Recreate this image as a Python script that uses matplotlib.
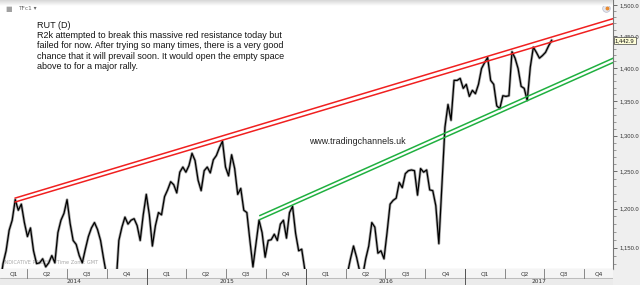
import matplotlib
matplotlib.use("Agg")
import matplotlib.pyplot as plt
import matplotlib.ticker as mticker
import numpy as np
import pandas as pd

# weekly closes of RUT (values below ~1124 are clipped)
closes = [
    1105, 1130, 1146, 1172, 1185, 1212, 1198, 1206, 1182, 1164,
    1175, 1146, 1130, 1131, 1136, 1126, 1131, 1140, 1131, 1169,
    1185, 1194, 1212, 1181, 1159, 1154, 1140, 1131, 1148, 1164,
    1175, 1182, 1173, 1159, 1136, 1115, 1090, 1070, 1100, 1159,
    1176, 1189, 1180, 1185, 1187, 1178, 1159, 1192, 1219, 1192,
    1152, 1178, 1195, 1192, 1216, 1225, 1236, 1232, 1221, 1249,
    1256, 1249, 1258, 1275, 1265, 1238, 1224, 1251, 1256, 1248,
    1266, 1272, 1283, 1292, 1256, 1244, 1273, 1254, 1219, 1227,
    1198, 1195, 1159, 1126, 1155, 1185, 1169, 1138, 1159, 1160,
    1167, 1159, 1180, 1185, 1162, 1195, 1203, 1168, 1146, 1148,
    1123, 1090, 1060, 1040, 1010, 990, 1000, 960, 990, 1010,
    1030, 1050, 1080, 1100, 1118, 1136, 1152, 1138, 1121, 1115,
    1136, 1152, 1182, 1176, 1143, 1146, 1136, 1169, 1206, 1211,
    1214, 1235, 1228, 1247, 1251, 1252, 1251, 1218, 1254, 1249,
    1252, 1225, 1224, 1204, 1155, 1231, 1312, 1345, 1322, 1381,
    1381, 1384, 1369, 1375, 1357, 1366, 1361, 1375, 1399, 1408,
    1416, 1381, 1375, 1343, 1339, 1358, 1357, 1358, 1425, 1415,
    1399, 1372, 1369, 1351, 1401, 1432, 1424, 1415, 1419, 1424,
    1434, 1442.9,
]
dates = pd.date_range("2014-01-28", periods=len(closes), freq="7D")
last_price = 1442.9

# trend lines (two parallel lines each)
red_dates = pd.to_datetime(["2014-03-04", "2017-12-06"])
red_upper = [1214.1, 1477.5]
red_lower = [1208.9, 1469.4]
green_dates = pd.to_datetime(["2015-09-17", "2017-12-06"])
green_upper = [1191.1, 1414.8]
green_lower = [1185.9, 1408.2]

y_major = [1150, 1200, 1250, 1300, 1350, 1400, 1450, 1500]

note = ("RUT (D)\n"
        "R2k attempted to break this massive red resistance today but\n"
        "failed for now. After trying so many times, there is a very good\n"
        "chance that it will prevail soon. It would open the empty space\n"
        "above to for a major rally.")

W, H = 640, 285
x0, x1 = pd.Timestamp("2014-01-28"), pd.Timestamp("2017-12-06")

fig = plt.figure(figsize=(6.4, 2.85), dpi=100)
fig.patch.set_facecolor("#efefef")

ax = fig.add_axes([0, 16.5 / H, 613 / W, 268.5 / H])
ax.set_facecolor("white")
ax.set_yscale("log")
ax.set_xlim(x0, x1)
ax.set_ylim(1124, 1508)

ax.plot(dates, closes, color="#a8a8a8", lw=2.0, zorder=2)
ax.plot(dates, closes, color="black", lw=0.9, zorder=3)

ax.plot(red_dates, red_upper, color="#f02020", lw=1.1, zorder=4)
ax.plot(red_dates, red_lower, color="#f02020", lw=1.1, zorder=4)
ax.plot(green_dates, green_upper, color="#20b040", lw=1.1, zorder=4)
ax.plot(green_dates, green_lower, color="#20b040", lw=1.1, zorder=4)

# price axis on the right
ax.yaxis.tick_right()
ax.set_yticks(y_major)
ax.set_yticks([v for v in range(1130, 1510, 10) if v not in y_major], minor=True)
ax.yaxis.set_major_formatter(mticker.FuncFormatter(lambda v, p: f"{v:,.1f}"))
ax.yaxis.set_minor_formatter(mticker.NullFormatter())
ax.tick_params(axis="y", which="major", length=3, width=0.6, color="#555",
               labelsize=4.2, labelcolor="#333", pad=1.5)
ax.tick_params(axis="y", which="minor", length=1.8, width=0.5, color="#777")
for lab in ax.get_yticklabels():
    lab.set_family("Liberation Sans")
ax.set_xticks([])
for s in ["left", "top"]:
    ax.spines[s].set_visible(False)
ax.spines["right"].set_color("#777")
ax.spines["bottom"].set_color("#999")

ax.text(1.003, last_price, f"{last_price:,.1f}",
        transform=ax.get_yaxis_transform(), ha="left", va="center",
        fontsize=4.2, family="Liberation Sans", color="#111", clip_on=False, zorder=10,
        bbox=dict(boxstyle="square,pad=0.2", fc="#ffffd8", ec="#444", lw=0.5))

ax.text(37 / 613, 1 - 21 / 268.5, note, transform=ax.transAxes,
        ha="left", va="top", fontsize=6.5, family="Liberation Sans",
        color="#151515", linespacing=1.17, zorder=6)
ax.text(357 / 613, 1 - 141 / 268.5, "www.tradingchannels.uk", transform=ax.transAxes,
        ha="center", va="center", fontsize=6.4, family="Liberation Sans",
        color="#222", zorder=6)
ax.text(3 / 613, 4 / 268.5, "INDICATIVE PRICES    Time Zone: GMT", transform=ax.transAxes,
        ha="left", va="bottom", fontsize=3.6, color="#a8a8a8", zorder=1)

# header strip: light grey fading to white
grad = np.linspace(0.84, 1.0, 20).reshape(-1, 1)
hax = fig.add_axes([0, 1 - 6 / H, 613 / W, 6 / H])
hax.imshow(grad, aspect="auto", cmap="gray", vmin=0, vmax=1, extent=[0, 1, 0, 1])
hax.axis("off")
fig.text(5 / W, 1 - 9 / H, "\u25a0", fontsize=5, color="#a0a0a0", va="center")
fig.text(18 / W, 1 - 9 / H, "TFc1 \u25be", fontsize=4.2, color="#666", va="center")
ax.plot([606 / 613], [1 - 8 / 268.5], "o", ms=5.5, mfc="#e4e6ee", mec="#b8bccc",
        mew=0.5, transform=ax.transAxes, clip_on=False, zorder=7)
ax.plot([607 / 613], [1 - 7.5 / 268.5], "o", ms=1.8, color="#e88a30",
        transform=ax.transAxes, clip_on=False, zorder=8)

# time axis bands: quarters on top row, years below
bax = fig.add_axes([0, 0, 613 / W, 16.5 / H])
bax.set_xlim(x0, x1)
bax.set_ylim(0, 16.5)
bax.axhspan(7, 16.5, color="#f5f5f5")
bax.axhspan(0, 7, color="#ebebeb")
bax.axhline(7, color="#aaa", lw=0.5)
bax.set_xticks([])
bax.set_yticks([])
for s in bax.spines.values():
    s.set_visible(False)

q_starts = pd.date_range("2014-01-01", "2018-01-01", freq="QS")
for a, b in zip(q_starts[:-1], q_starts[1:]):
    if a > x0:
        bax.plot([a, a], [7, 16.5], color="#777", lw=0.6)
    lo, hi = max(a, x0), min(b, x1)
    bax.text(lo + (hi - lo) / 2, 11.5, f"Q{a.quarter}", ha="center", va="center",
             fontsize=4.2, color="#333")
y_starts = pd.date_range("2014-01-01", "2018-01-01", freq="YS")
for a, b in zip(y_starts[:-1], y_starts[1:]):
    if a > x0:
        bax.plot([a, a], [0, 16.5], color="#555", lw=0.7)
    lo, hi = max(a, x0), min(b, x1)
    bax.text(lo + (hi - lo) / 2, 3.3, str(a.year), ha="center", va="center",
             fontsize=4.2, color="#333")

fig.savefig("out.png", dpi=100, facecolor=fig.get_facecolor())
